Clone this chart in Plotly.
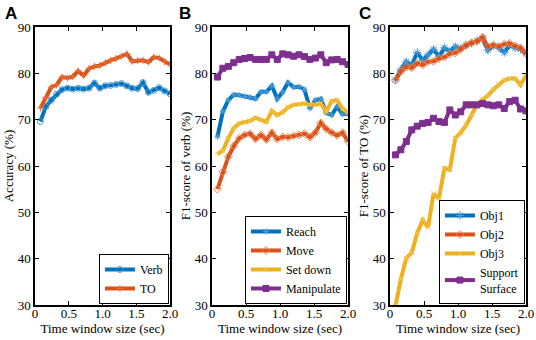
import plotly.graph_objects as go

# ---------------- data ----------------
time_window = [0.08, 0.16, 0.24, 0.32, 0.40, 0.48, 0.56, 0.64, 0.72, 0.80,
               0.88, 0.96, 1.04, 1.12, 1.20, 1.28, 1.36, 1.44, 1.52, 1.60,
               1.68, 1.76, 1.84, 1.92, 2.00]

# Panel A: accuracy
acc_verb = [69.6, 72.8, 74.2, 75.5, 76.5, 76.8, 76.6, 76.8, 76.6, 76.8,
            77.9, 76.8, 77.3, 77.4, 77.6, 77.8, 77.3, 76.8, 76.7, 78.0,
            75.9, 76.3, 76.9, 76.2, 75.6]
acc_to = [72.5, 74.8, 77.0, 77.5, 79.2, 79.0, 79.3, 80.5, 79.5, 81.0,
          81.5, 81.7, 82.3, 82.8, 83.2, 83.7, 84.2, 82.6, 82.8, 82.8,
          82.4, 83.5, 83.3, 82.5, 81.9]

# Panel B: F1-score of verb
f1_reach = [66.3, 71.8, 74.2, 75.4, 75.3, 75.0, 74.8, 74.5, 76.0, 76.0,
            77.3, 74.5, 76.0, 78.0, 77.0, 77.1, 76.5, 72.4, 74.2, 74.5,
            71.5, 71.0, 72.8, 71.2, 71.3]
f1_move = [55.0, 58.7, 62.0, 64.3, 66.0, 66.7, 67.0, 65.8, 66.7, 65.7,
           67.2, 65.8, 66.3, 66.2, 66.5, 66.7, 67.0, 66.2, 67.2, 69.3,
           68.0, 67.2, 66.6, 67.2, 65.3]
f1_setdown = [62.6, 63.3, 66.0, 68.2, 69.2, 69.5, 69.7, 70.4, 69.9, 69.5,
              71.9, 71.0, 71.6, 72.7, 73.2, 73.3, 73.5, 73.2, 73.2, 73.5,
              71.8, 74.0, 74.2, 72.3, 71.5]
f1_manip = [79.2, 81.1, 81.5, 82.3, 83.0, 83.2, 83.4, 83.0, 83.0, 83.0,
            84.0, 83.0, 84.2, 84.0, 83.7, 84.0, 83.6, 83.0, 83.3, 84.0,
            82.3, 82.9, 83.0, 82.5, 81.9]

# Panel C: F1-score of TO
f1_obj1 = [78.6, 80.8, 82.5, 81.8, 84.5, 82.8, 84.0, 85.2, 83.6, 85.5,
           84.7, 85.8, 85.4, 86.0, 86.5, 87.0, 87.5, 85.0, 86.0, 85.5,
           84.5, 86.0, 85.5, 85.2, 84.3]
f1_obj2 = [78.5, 80.4, 81.4, 81.2, 82.2, 81.8, 82.5, 82.6, 83.2, 83.5,
           84.2, 84.4, 85.2, 86.1, 86.6, 86.9, 87.8, 85.8, 86.1, 85.8,
           86.3, 86.5, 85.9, 85.5, 84.3]
f1_obj3 = [29.8, 35.6, 40.1, 41.3, 45.5, 48.3, 46.8, 54.0, 53.0, 59.5,
           59.2, 66.0, 67.2, 68.8, 71.0, 73.2, 74.3, 75.2, 76.5, 77.6,
           78.5, 78.9, 78.9, 77.5, 79.6]
f1_support = [62.4, 63.5, 65.3, 67.8, 68.6, 69.2, 69.4, 70.3, 69.6, 69.4,
              72.1, 71.0, 71.7, 73.2, 73.2, 73.2, 73.5, 73.2, 73.0, 73.2,
              72.4, 73.9, 74.2, 72.3, 71.9]

x_tickvals = [0, 0.5, 1.0, 1.5, 2.0]
x_ticktext = ["0", "0.5", "1.0", "1.5", "2.0"]
y_tickvals = [30, 40, 50, 60, 70, 80, 90]

panel_letters = ["A", "B", "C"]
y_titles = ["Accuracy (%)", "F1-score of verb (%)", "F1-score of TO (%)"]
x_title = "Time window size (sec)"

# ---------------- style ----------------
W, H = 536, 340
BLUE, ORANGE, YELLOW, PURPLE = "#0072BD", "#D95319", "#EDB120", "#7E2F8E"
SERIF = "Times New Roman, Liberation Serif, DejaVu Serif, serif"

def px_x(p):
    return p / W

def px_y(p):
    return 1 - p / H

panel_px = [(35, 170), (212, 348), (390, 526)]
top_px, bot_px = 27, 305

fig = go.Figure()

def add(xa, ya, legend, name, y, color, symbol, msize, mcolor):
    fig.add_trace(go.Scatter(
        x=time_window, y=y, name=name, mode="lines+markers",
        line=dict(color=color, width=4),
        marker=dict(symbol=symbol, size=msize, color=mcolor,
                    line=dict(color=mcolor, width=1)),
        xaxis=xa, yaxis=ya, legend=legend, cliponaxis=True))

add("x", "y", "legend", "Verb", acc_verb, BLUE, "circle-open", 6, "#4a9ad8")
add("x", "y", "legend", "TO", acc_to, ORANGE, "cross-thin-open", 5, "#e8703a")

add("x2", "y2", "legend2", "Reach", f1_reach, BLUE, "asterisk-open", 5, "#4a9ad8")
add("x2", "y2", "legend2", "Move", f1_move, ORANGE, "diamond-open", 6, "#f08050")
add("x2", "y2", "legend2", "Set down", f1_setdown, YELLOW, "x-thin-open", 5, "#f5c850")
add("x2", "y2", "legend2", "Manipulate", f1_manip, PURPLE, "square", 6, PURPLE)

add("x3", "y3", "legend3", "Obj1", f1_obj1, BLUE, "asterisk-open", 7, "#4a9ad8")
add("x3", "y3", "legend3", "Obj2", f1_obj2, ORANGE, "diamond-open", 6, "#f08050")
add("x3", "y3", "legend3", "Obj3", f1_obj3, YELLOW, "x-thin-open", 5, "#f5c850")
add("x3", "y3", "legend3", "Support<br>Surface", f1_support, PURPLE, "square", 6, PURPLE)

axis_common = dict(showline=True, linecolor="black", linewidth=1.5, mirror="allticks",
                   ticks="inside", ticklen=4, tickcolor="black", tickwidth=1,
                   showgrid=False, zeroline=False, automargin=False,
                   tickfont=dict(family=SERIF, size=13, color="black"))

layout = dict(width=W, height=H, margin=dict(l=0, r=0, t=0, b=0, autoexpand=False),
              plot_bgcolor="white", paper_bgcolor="white",
              font=dict(family=SERIF, size=13, color="black"))

legend_px = [(170, 305), (348, 305), (526, 305)]
for i in range(3):
    s = "" if i == 0 else str(i + 1)
    l, r = panel_px[i]
    layout["xaxis" + s] = dict(axis_common, domain=[px_x(l), px_x(r)], range=[0, 2],
                              tickvals=x_tickvals, ticktext=x_ticktext,
                              anchor="y" + s, ticklabelstandoff=-4,
                              title=dict(text=x_title, standoff=0,
                                         font=dict(family=SERIF, size=13)))
    layout["yaxis" + s] = dict(axis_common, domain=[px_y(bot_px), px_y(top_px)],
                              range=[30, 90], tickvals=y_tickvals,
                              anchor="x" + s,
                              title=dict(text=y_titles[i], standoff=1,
                                         font=dict(family=SERIF, size=13)))
    layout["legend" + s] = dict(x=px_x(legend_px[i][0]) - 0.002, y=px_y(legend_px[i][1]) + 0.003,
                                xanchor="right", yanchor="bottom",
                                bgcolor="white", bordercolor="black", borderwidth=1,
                                font=dict(family=SERIF, size=12, color="black"),
                                itemwidth=30, tracegroupgap=0)

fig.update_layout(**layout)

letter_x = [3, 177, 357]
for i in range(3):
    fig.add_annotation(text="<b>" + panel_letters[i] + "</b>", xref="paper", yref="paper",
                       x=px_x(letter_x[i]), y=px_y(2), xanchor="left", yanchor="top",
                       showarrow=False,
                       font=dict(family="Liberation Sans", size=17, color="black"))

fig.write_html("out.html", config={"displayModeBar": False},
               post_script="document.body.style.margin='0px';")
